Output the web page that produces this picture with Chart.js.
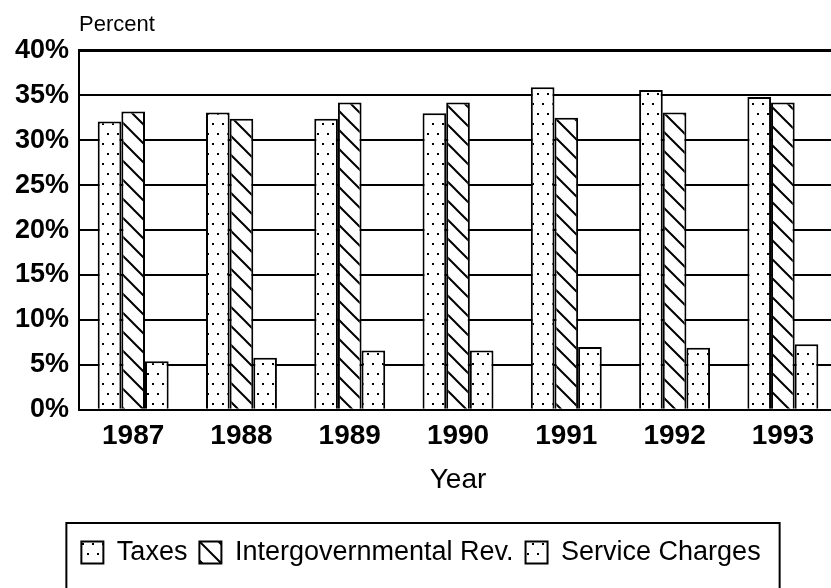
<!DOCTYPE html>
<html>
<head>
<meta charset="utf-8">
<script src="https://cdn.jsdelivr.net/npm/chart.js@4.4.1/dist/chart.umd.min.js"></script>
<style>
  html, body { margin: 0; padding: 0; background: #fff; overflow: hidden; }
  #frame { width: 831px; height: 588px; overflow: hidden; }
  canvas { display: block; }
</style>
</head>
<body>
<div id="frame"><canvas id="revenueChart" width="850" height="600"></canvas></div>
<script>
'use strict';

const years = ['1987', '1988', '1989', '1990', '1991', '1992', '1993'];
const taxes = [32.1, 33.1, 32.4, 33.0, 35.9, 35.6, 34.8];
const intergovernmental = [33.2, 32.4, 34.2, 34.2, 32.5, 33.1, 34.2];
const serviceCharges = [5.4, 5.8, 6.6, 6.6, 7.0, 6.9, 7.3];
const percentTicks = [0, 5, 10, 15, 20, 25, 30, 35, 40];

const fontFamily = '"Liberation Sans", Arial, Helvetica, sans-serif';

function dotPattern() {
  const tile = document.createElement('canvas');
  tile.width = 10;
  tile.height = 20;
  const g = tile.getContext('2d');
  g.fillStyle = '#fff';
  g.fillRect(0, 0, 10, 20);
  g.fillStyle = '#000';
  g.fillRect(2, 3, 2, 2);
  g.fillRect(7, 13, 2, 2);
  return g.createPattern(tile, 'repeat');
}

function hatchPattern() {
  const s = 19;
  const tile = document.createElement('canvas');
  tile.width = s;
  tile.height = s;
  const g = tile.getContext('2d');
  g.fillStyle = '#fff';
  g.fillRect(0, 0, s, s);
  g.strokeStyle = '#000';
  g.lineWidth = 2;
  g.beginPath();
  for (const o of [-s, 0, s]) {
    g.moveTo(o - 2, -2);
    g.lineTo(o + s + 2, s + 2);
  }
  g.stroke();
  return g.createPattern(tile, 'repeat');
}

// box round the legend, open at the bottom like the scan
const legendFrame = {
  id: 'legendFrame',
  afterDraw(chart) {
    const boxes = chart.legend && chart.legend.legendHitBoxes;
    if (!boxes || !boxes.length) { return; }
    const left = Math.min(...boxes.map(b => b.left)) - 15;
    const right = Math.max(...boxes.map(b => b.left + b.width)) + 19;
    const top = Math.min(...boxes.map(b => b.top)) - 16;
    const ctx = chart.ctx;
    ctx.save();
    ctx.strokeStyle = '#000';
    ctx.lineWidth = 2;
    ctx.strokeRect(left, top, right - left, chart.height - top + 10);
    ctx.restore();
  },
};

const barStyle = {
  borderColor:        '#000',
  borderWidth:        2,
  barPercentage:      1.0,
  categoryPercentage: 0.655,
};

new Chart(document.getElementById('revenueChart'), {
  type: 'bar',
  data: {
    labels:   years,
    datasets: [
      {...barStyle, label: 'Taxes', data: taxes, backgroundColor: dotPattern()},
      {...barStyle, label: 'Intergovernmental Rev.', data: intergovernmental, backgroundColor: hatchPattern()},
      {...barStyle, label: 'Service Charges', data: serviceCharges, backgroundColor: dotPattern()},
    ],
  },
  options: {
    responsive:       false,
    animation:        false,
    devicePixelRatio: 1,
    layout: {
      padding: {left: 5, right: 13, top: 0, bottom: 24},
    },
    scales: {
      x: {
        grid:   {display: false},
        border: {display: true, color: '#000', width: 2},
        ticks:  {
          color:   '#000',
          padding: 2,
          font:    {family: fontFamily, size: 28, weight: 'bold'},
        },
        title: {
          display: true,
          text:    'Year',
          color:   '#000',
          padding: {top: 8, bottom: 30},
          font:    {family: fontFamily, size: 28},
        },
      },
      y: {
        min: 0,
        max: 40,
        afterBuildTicks: scale => {
          scale.ticks = percentTicks.map(v => ({value: v}));
        },
        grid: {
          color:     '#000',
          lineWidth: ctx => (ctx.tick && ctx.tick.value === 40 ? 3 : 2),
          drawTicks: false,
        },
        border: {display: true, color: '#000', width: 2},
        ticks: {
          color:    '#000',
          padding:  10,
          callback: v => v + '%',
          font:     {family: fontFamily, size: 27, weight: 'bold'},
        },
      },
    },
    plugins: {
      title: {
        display:  true,
        text:     'Percent',
        align:    'start',
        fullSize: false,
        color:    '#000',
        padding:  {top: 12, bottom: 12},
        font:     {family: fontFamily, size: 22, weight: 'normal'},
      },
      legend: {
        display:  true,
        position: 'bottom',
        labels:   {
          boxWidth:  22,
          boxHeight: 22,
          padding:   12,
          color:     '#000',
          font:      {family: fontFamily, size: 27},
        },
      },
      tooltip: {enabled: false},
    },
  },
  plugins: [legendFrame],
});
</script>
</body>
</html>
